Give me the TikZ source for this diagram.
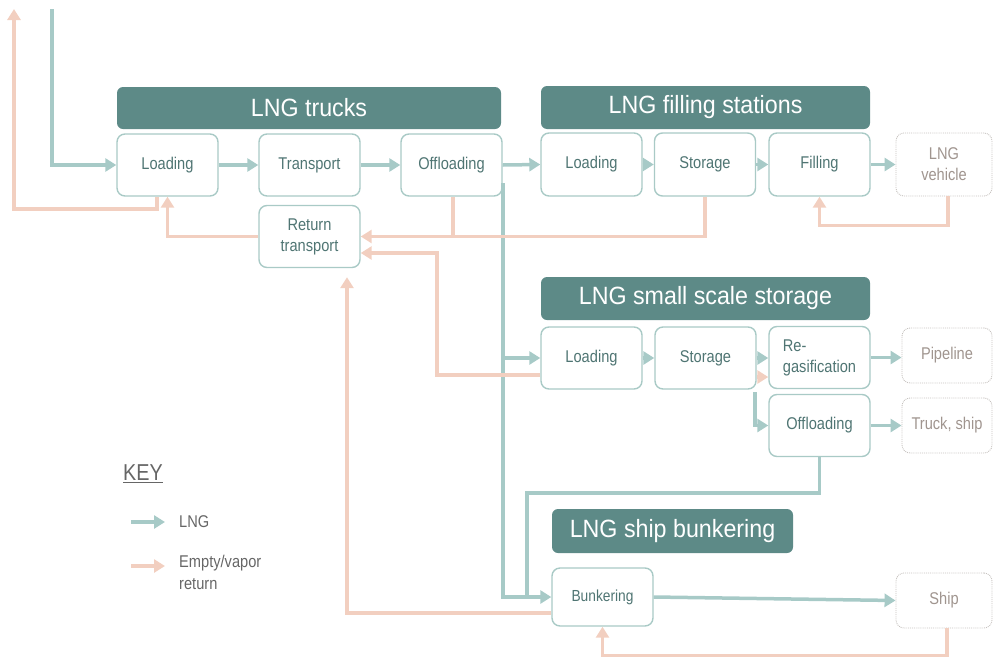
\documentclass[tikz,border=0pt]{standalone}
\usepackage{fontspec}
\setmainfont{Liberation Sans}
\newfontfamily\hfont[FakeStretch=0.93]{Liberation Sans}
\newfontfamily\bfont[FakeStretch=0.86]{Liberation Sans}
\usetikzlibrary{arrows.meta}
\definecolor{hdr}{HTML}{5D8A87}
\definecolor{bord}{HTML}{A9CAC6}
\definecolor{btxt}{HTML}{4F7573}
\definecolor{lngc}{HTML}{A7CAC7}
\definecolor{retc}{HTML}{F2CFC0}
\definecolor{dotc}{HTML}{C6C2BF}
\definecolor{dtxt}{HTML}{A0958F}
\definecolor{keyc}{HTML}{666666}
\begin{document}
\begin{tikzpicture}[x=1pt,y=-1pt,
  hdrbox/.style={fill=hdr, rounded corners=6pt, text=white, font=\hfont\fontsize{25}{28}\selectfont, inner sep=0pt},
  procbox/.style={draw=bord, line width=1.4pt, rounded corners=8pt, fill=white, text=btxt, font=\bfont\fontsize{17}{21}\selectfont, align=center, inner sep=0pt, minimum width=101pt, minimum height=62pt},
  extbox/.style={draw=dotc, densely dotted, line width=0.9pt, rounded corners=8pt, fill=white, text=dtxt, font=\bfont\fontsize{17}{21}\selectfont, align=center, inner sep=0pt},
  lng/.style={draw=lngc, line width=3.5pt, -{Triangle[length=11pt,width=13pt]}},
  lngl/.style={draw=lngc, line width=3.5pt},
  ret/.style={draw=retc, line width=3.5pt, -{Triangle[length=11pt,width=13pt]}},
  retl/.style={draw=retc, line width=3.5pt},
  keytxt/.style={text=keyc, font=\bfont\fontsize{17}{22}\selectfont, align=left, inner sep=0pt}
]
\useasboundingbox (0,0) rectangle (993,659);

% headers
\node[hdrbox, minimum width=384pt, minimum height=42pt] (H1) at (309,108) {LNG trucks};
\node[hdrbox, minimum width=329pt, minimum height=43pt] (H2) at (705.5,107.5) {LNG filling stations};
\node[hdrbox, minimum width=329pt, minimum height=43pt] (H3) at (705.5,298.5) {LNG small scale storage};
\node[hdrbox, minimum width=241pt, minimum height=44pt] (H4) at (672.5,531) {LNG ship bunkering};

% trucks
\node[procbox] (TL) at (167.5,165) {Loading};
\node[procbox] (TT) at (309.5,165) {Transport};
\node[procbox] (TO) at (451.5,165) {Offloading};
\node[procbox] (TR) at (309.5,236.5) {Return\\transport};

% filling stations
\node[procbox, minimum height=63pt] (FL) at (591.5,164.5) {Loading};
\node[procbox, minimum height=63pt] (FS) at (705,164.5) {Storage};
\node[procbox, minimum height=63pt] (FF) at (819.5,164.5) {Filling};
\node[extbox, minimum width=96pt, minimum height=63pt] (FV) at (944,164.5) {LNG\\vehicle};

% small scale storage
\node[procbox] (SL) at (591.5,358) {Loading};
\node[procbox] (SS) at (705.5,358) {Storage};
\node[procbox, align=left] (SR) at (819.5,357.5) {Re-\\gasification};
\node[extbox, minimum width=90pt, minimum height=55pt] (SP) at (947,355.5) {Pipeline};
\node[procbox] (SO) at (819.5,425.5) {Offloading};
\node[extbox, minimum width=90pt, minimum height=55pt] (ST) at (947,425.5) {Truck, ship};

% bunkering
\node[procbox, minimum height=58pt, font=\bfont\fontsize{16}{20}\selectfont] (BB) at (602.5,597) {Bunkering};
\node[extbox, minimum width=96pt, minimum height=55pt] (BS) at (944,600.5) {Ship};

% coordinates
\coordinate (top1) at (52,9);
\coordinate (top2) at (14,9);
\coordinate (j1) at (503,183);
\coordinate (j2) at (503,358);
\coordinate (j3) at (755,392);

% LNG flows
\draw[lng] (top1) |- (TL.west);
\draw[lng] (TL.east) -- (TT.west);
\draw[lng] (TT.east) -- (TO.west);
\draw[lng] (TO.east) -- (FL.west);
\draw[lng] (FL.east) -- (FS.west);
\draw[lng] (FS.east) -- (FF.west);
\draw[lng] (FF.east) -- (FV.west);
\draw[lng] (j1) |- (BB.west);
\draw[lng] (j2) -- (SL.west);
\draw[lng] (SL.east) -- (SS.west);
\draw[lng] (SS.east) -- (SR.west |- SS.east);
\draw[lng] (SR.east) -- (SP.west |- SR.east);
\draw[lng] (j3) |- (SO.west);
\draw[lng] (SO.east) -- (ST.west);
\draw[lngl] (SO.south) |- (527,493) -- (527,597);
\draw[lng] (BB.east) -- (BS.west);

% return flows
\draw[ret] ([xshift=-10.5pt]TL.south) |- (14,209) -- (top2);
\draw[ret] (TR.west) -| (TL.south);
\draw[ret] (FS.south) |- (TR.east);
\draw[retl] ([xshift=1.5pt]TO.south) -- ++(0,41.5);
\draw[ret] ([yshift=-17pt]SL.west) -| (437,253) -- ([yshift=-16.5pt]TR.east);
\draw[ret] ([yshift=-16pt]BB.west) -| ([xshift=37.5pt,yshift=-9pt]TR.south);
\draw[ret] ([xshift=4pt]FV.south) -- ++(0,29) -| (FF.south);
\draw[ret] ([yshift=-19pt]SS.east) -- ([yshift=-19.5pt]SR.west);
\draw[ret] ([xshift=3pt]BS.south) -- ++(0,27) -| (BB.south);

% key
\node[keytxt, font=\bfont\fontsize{23}{26}\selectfont] (KEY) at (143,474) {\underline{KEY}};
\coordinate (k1a) at (131,522);
\coordinate (k1b) at (165,522);
\coordinate (k2a) at (131,566);
\coordinate (k2b) at (165,566);
\draw[lng] (k1a) -- (k1b);
\draw[ret] (k2a) -- (k2b);
\node[keytxt, anchor=west] (KL) at (179,522) {LNG};
\node[keytxt, anchor=north west] (KR) at (179,555) {Empty/vapor\\return};
\end{tikzpicture}
\end{document}
